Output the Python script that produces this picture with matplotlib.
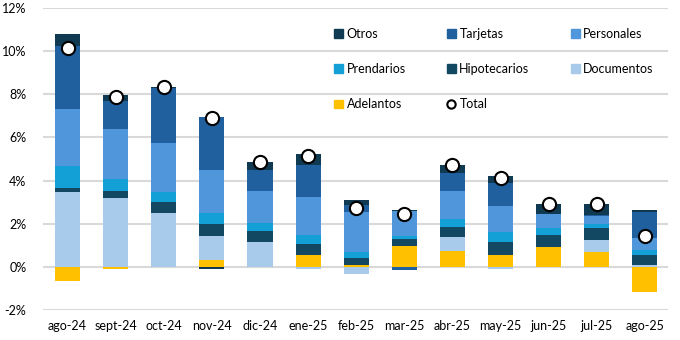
import numpy as np
import matplotlib
matplotlib.use("Agg")
import matplotlib.pyplot as plt
from matplotlib.patches import Patch
from matplotlib.lines import Line2D
from matplotlib.ticker import FuncFormatter

plt.rcParams['font.family'] = ['Lato', 'DejaVu Sans']

# meses
meses = ['ago-24', 'sept-24', 'oct-24', 'nov-24', 'dic-24', 'ene-25', 'feb-25',
         'mar-25', 'abr-25', 'may-25', 'jun-25', 'jul-25', 'ago-25']

# aportes por tipo de préstamo (p.p.)
adelantos    = [-0.65, -0.12, 0.00, 0.30, 0.00, 0.57, 0.10, 0.95, 0.73, 0.57, 0.93, 0.67, -1.18]
documentos   = [3.46, 3.18, 2.48, 1.12, 1.13, -0.08, -0.35, 0.00, 0.64, -0.10, 0.00, 0.56, 0.09]
hipotecarios = [0.19, 0.33, 0.51, 0.56, 0.51, 0.47, 0.33, 0.33, 0.47, 0.56, 0.53, 0.56, 0.48]
prendarios   = [1.02, 0.56, 0.47, 0.51, 0.37, 0.42, 0.28, 0.14, 0.37, 0.47, 0.33, 0.19, 0.20]
personales   = [2.66, 2.33, 2.28, 2.00, 1.49, 1.77, 1.82, 1.16, 1.30, 1.21, 0.65, 0.37, 0.59]
tarjetas     = [2.89, 1.30, 2.55, 2.47, 0.98, 1.49, 0.33, -0.15, 0.84, 1.07, 0.03, 0.05, 1.18]
otros        = [0.56, 0.28, 0.03, -0.08, 0.37, 0.51, 0.23, 0.04, 0.37, 0.33, 0.44, 0.51, 0.08]

series = [
    ('Adelantos', adelantos, '#FFC000'),
    ('Documentos', documentos, '#A9CBEB'),
    ('Hipotecarios', hipotecarios, '#134862'),
    ('Prendarios', prendarios, '#12A0D7'),
    ('Personales', personales, '#4F96DA'),
    ('Tarjetas', tarjetas, '#21609E'),
    ('Otros', otros, '#0F3A52'),
]

x = np.arange(len(meses))
fig = plt.figure(figsize=(6.8, 3.4), dpi=100)
ax = fig.add_axes([43/680, 30/340, 625/680, 302/340])

pos = np.zeros(len(meses))
neg = np.zeros(len(meses))
for nombre, vals, color in series:
    v = np.array(vals)
    base = np.where(v >= 0, pos, neg)
    ax.bar(x, v, 0.52, bottom=base, color=color, zorder=2, linewidth=0)
    pos = pos + np.clip(v, 0, None)
    neg = neg + np.clip(v, None, 0)

total = pos + neg
ax.plot(x, total, 'o', ms=9.5, mfc='white', mec='black', mew=1.5, zorder=3)

ax.set_ylim(-2, 12)
ax.set_yticks(np.arange(-2, 13, 2))
ax.yaxis.set_major_formatter(FuncFormatter(lambda v, p: f'{v:.0f}%'))
ax.set_xlim(-0.51, 12.48)
ax.set_xticks(x)
ax.set_xticklabels(meses)
ax.tick_params(length=0, labelsize=9, colors='#000000')
ax.tick_params(axis='y', pad=12)
ax.tick_params(axis='x', pad=7)
ax.grid(axis='y', color='#D9D9D9', linewidth=1.5, zorder=0)
for s in ax.spines.values():
    s.set_visible(False)

# leyenda, filas de 3
h = {n: Patch(color=c) for n, _, c in series}
h['Total'] = Line2D([], [], marker='o', ls='', ms=6, mfc='white', mec='black', mew=1.5)
orden = ['Otros', 'Prendarios', 'Adelantos', 'Tarjetas', 'Hipotecarios', 'Total',
         'Personales', 'Documentos']
fig.legend([h[n] for n in orden], orden, ncol=3, loc='upper left',
           bbox_to_anchor=(334/680, 1 - 28/340), frameon=False, fontsize=9,
           handlelength=0.7, handleheight=0.7, handletextpad=0.3,
           labelspacing=1.85, columnspacing=3.3, borderpad=0, borderaxespad=0)

fig.savefig('out.png', dpi=100)
